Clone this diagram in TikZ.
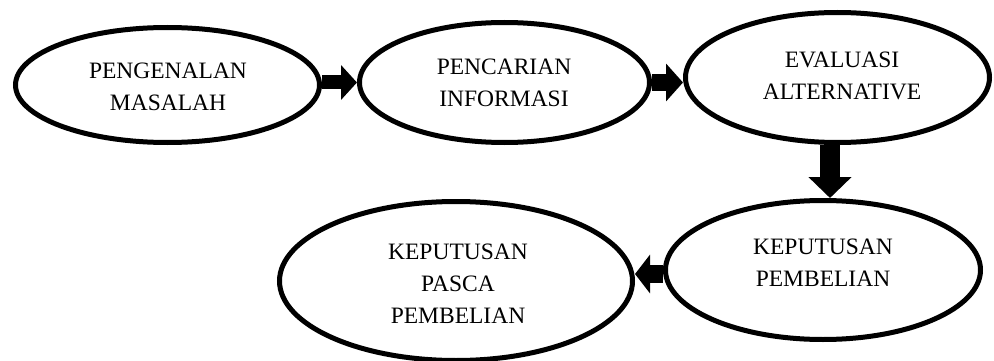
\documentclass[tikz,border=0pt]{standalone}
\usepackage{fontspec}
\setmainfont{Liberation Serif}
\usetikzlibrary{shapes.geometric,arrows.meta}
\begin{document}
\begin{tikzpicture}[x=1pt,y=-1pt,
  stage/.style={ellipse,draw,line width=5pt,inner sep=0pt},
  lbl/.style={align=center,inner sep=0pt,font=\fontsize{23.5}{32}\selectfont},
  barrow/.style n args={3}{line width=#1,-{Triangle[width=#2,length=#3]}}]
\useasboundingbox (0,0) rectangle (994,361);
\fill[white] (0,0) rectangle (994,361);
\begin{scope}
\clip (0,0) rectangle (994,361);
\node[stage,minimum width=304pt,minimum height=115pt] (e1) at (167.5,85) {};
\node[stage,minimum width=290pt,minimum height=120pt] (e2) at (504.5,82.5) {};
\node[stage,minimum width=304pt,minimum height=130pt] (e3) at (837.5,77.5) {};
\node[stage,minimum width=315pt,minimum height=139pt] (e4) at (823,270) {};
\node[stage,minimum width=353pt,minimum height=159pt] (e5) at (456,281) {};
\end{scope}
\node[lbl] (t1) at (168,86.5) {PENGENALAN\\MASALAH};
\node[lbl] (t2) at (504,82.5) {PENCARIAN\\INFORMASI};
\node[lbl] (t3) at (842,75.5) {EVALUASI\\ALTERNATIVE};
\node[lbl] (t4) at (823,262.5) {KEPUTUSAN\\PEMBELIAN};
\node[lbl] (t5) at (458,284) {KEPUTUSAN\\PASCA\\PEMBELIAN};
\coordinate (vx) at (830,0);
\coordinate (hy) at (0,274);
\draw[barrow={14pt}{34pt}{16pt}] (e1.east |- e2.west) -- (e2.west);
\draw[barrow={17pt}{37pt}{17pt}] (e2.east) -- (e2.east -| e3.west);
\draw[barrow={20pt}{42pt}{21pt}] (e3.south -| vx) -- (e4.north -| vx);
\draw[barrow={18pt}{38pt}{15pt}] (e4.west |- hy) -- (e5.east |- hy);
\end{tikzpicture}
\end{document}
